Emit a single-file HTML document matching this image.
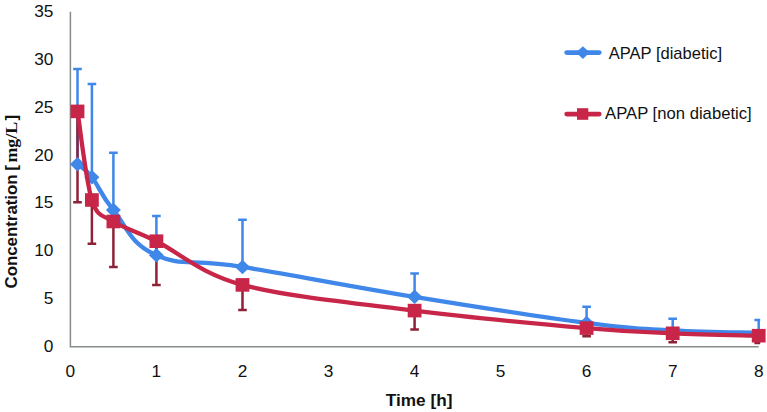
<!DOCTYPE html>
<html lang="en"><head><meta charset="utf-8"><title>APAP concentration vs time</title>
<style>html,body{margin:0;padding:0;background:#fff}svg{display:block}</style></head>
<body>
<svg width="767" height="412" viewBox="0 0 767 412">
<rect width="767" height="412" fill="#fff"/>
<path d="M70.4,11.7 V346.7 H758.7" fill="none" stroke="#868c8b" stroke-width="1.5"/>
<g font-family="'Liberation Sans', sans-serif" font-size="16" fill="#111" text-anchor="end">
<text x="53.4" y="351.9" textLength="9.6" lengthAdjust="spacingAndGlyphs">0</text>
<text x="53.4" y="304.0" textLength="9.6" lengthAdjust="spacingAndGlyphs">5</text>
<text x="53.4" y="256.2" textLength="19.2" lengthAdjust="spacingAndGlyphs">10</text>
<text x="53.4" y="208.3" textLength="19.2" lengthAdjust="spacingAndGlyphs">15</text>
<text x="53.4" y="160.5" textLength="19.2" lengthAdjust="spacingAndGlyphs">20</text>
<text x="53.4" y="112.6" textLength="19.2" lengthAdjust="spacingAndGlyphs">25</text>
<text x="53.4" y="64.8" textLength="19.2" lengthAdjust="spacingAndGlyphs">30</text>
<text x="53.4" y="16.9" textLength="19.2" lengthAdjust="spacingAndGlyphs">35</text>
</g>
<g font-family="'Liberation Sans', sans-serif" font-size="16" fill="#111" text-anchor="middle">
<text x="70.4" y="376.5" textLength="9.6" lengthAdjust="spacingAndGlyphs">0</text>
<text x="156.4" y="376.5" textLength="9.6" lengthAdjust="spacingAndGlyphs">1</text>
<text x="242.5" y="376.5" textLength="9.6" lengthAdjust="spacingAndGlyphs">2</text>
<text x="328.5" y="376.5" textLength="9.6" lengthAdjust="spacingAndGlyphs">3</text>
<text x="414.6" y="376.5" textLength="9.6" lengthAdjust="spacingAndGlyphs">4</text>
<text x="500.6" y="376.5" textLength="9.6" lengthAdjust="spacingAndGlyphs">5</text>
<text x="586.6" y="376.5" textLength="9.6" lengthAdjust="spacingAndGlyphs">6</text>
<text x="672.7" y="376.5" textLength="9.6" lengthAdjust="spacingAndGlyphs">7</text>
<text x="758.7" y="376.5" textLength="9.6" lengthAdjust="spacingAndGlyphs">8</text>
</g>
<text x="385.8" y="405.5" font-family="'Liberation Sans', sans-serif" font-weight="bold" font-size="17" fill="#111" textLength="66.6" lengthAdjust="spacingAndGlyphs">Time [h]</text>
<g transform="translate(16.6,288.5) rotate(-90)" font-family="'Liberation Sans', sans-serif" font-weight="bold" font-size="17.2" fill="#111">
<text x="0" y="0" textLength="114.1" lengthAdjust="spacingAndGlyphs">Concentration</text>
<text x="117.7" y="0">[</text>
<text x="126" y="0" font-family="'Liberation Serif', serif" font-size="17.5" textLength="40.6" lengthAdjust="spacingAndGlyphs">mg/L</text>
<text x="168" y="0">]</text>
</g>
<path d="M77.5,164.2 V69.1 M73.2,69.1 H81.8" fill="none" stroke="#4087ea" stroke-width="2.5"/>
<path d="M91.9,177.3 V84.0 M87.6,84.0 H96.2" fill="none" stroke="#4087ea" stroke-width="2.5"/>
<path d="M113.4,210.1 V152.7 M109.1,152.7 H117.7" fill="none" stroke="#4087ea" stroke-width="2.5"/>
<path d="M156.4,255.3 V216.1 M152.1,216.1 H160.7" fill="none" stroke="#4087ea" stroke-width="2.5"/>
<path d="M242.5,267.0 V219.8 M238.2,219.8 H246.8" fill="none" stroke="#4087ea" stroke-width="2.5"/>
<path d="M414.6,296.8 V273.5 M410.3,273.5 H418.9" fill="none" stroke="#4087ea" stroke-width="2.5"/>
<path d="M586.6,323.0 V306.8 M582.3,306.8 H590.9" fill="none" stroke="#4087ea" stroke-width="2.5"/>
<path d="M672.7,330.4 V318.8 M668.4,318.8 H677.0" fill="none" stroke="#4087ea" stroke-width="2.5"/>
<path d="M758.7,332.8 V320.0 M754.4,320.0 H760.2" fill="none" stroke="#4087ea" stroke-width="2.5"/>
<path d="M77.5,111.4 V202.2 M73.2,202.2 H81.8" fill="none" stroke="#8e2238" stroke-width="2.5"/>
<path d="M91.9,200.0 V243.7 M87.6,243.7 H96.2" fill="none" stroke="#8e2238" stroke-width="2.5"/>
<path d="M113.4,221.5 V267.0 M109.1,267.0 H117.7" fill="none" stroke="#8e2238" stroke-width="2.5"/>
<path d="M156.4,241.2 V285.1 M152.1,285.1 H160.7" fill="none" stroke="#8e2238" stroke-width="2.5"/>
<path d="M242.5,284.9 V310.1 M238.2,310.1 H246.8" fill="none" stroke="#8e2238" stroke-width="2.5"/>
<path d="M414.6,310.6 V329.6 M410.3,329.6 H418.9" fill="none" stroke="#8e2238" stroke-width="2.5"/>
<path d="M586.6,328.1 V336.2 M582.3,336.2 H590.9" fill="none" stroke="#8e2238" stroke-width="2.5"/>
<path d="M672.7,333.3 V342.2 M668.4,342.2 H677.0" fill="none" stroke="#8e2238" stroke-width="2.5"/>
<path d="M758.7,335.7 V342.9 M754.4,342.9 H760.2" fill="none" stroke="#8e2238" stroke-width="2.5"/>
<path d="M77.54,164.18 C80.53,166.91 84.44,167.72 91.91,177.29 C99.38,186.86 99.98,193.87 113.42,210.12 C126.86,226.37 129.55,243.45 156.44,255.30 C183.33,267.14 188.71,258.32 242.48,266.97 C296.26,275.63 342.86,285.17 414.56,296.84 C486.26,308.50 532.87,315.97 586.64,322.96 C640.41,329.96 636.83,328.38 672.68,330.43 C708.53,332.48 740.80,332.32 758.72,332.82" fill="none" stroke="#4087ea" stroke-width="4.3" stroke-linecap="round" stroke-linejoin="round"/>
<path d="M70.0,164.2 l7.5,-7.3 l7.5,7.3 l-7.5,7.3z" fill="#4087ea"/>
<path d="M84.4,177.3 l7.5,-7.3 l7.5,7.3 l-7.5,7.3z" fill="#4087ea"/>
<path d="M105.9,210.1 l7.5,-7.3 l7.5,7.3 l-7.5,7.3z" fill="#4087ea"/>
<path d="M148.9,255.3 l7.5,-7.3 l7.5,7.3 l-7.5,7.3z" fill="#4087ea"/>
<path d="M235.0,267.0 l7.5,-7.3 l7.5,7.3 l-7.5,7.3z" fill="#4087ea"/>
<path d="M407.1,296.8 l7.5,-7.3 l7.5,7.3 l-7.5,7.3z" fill="#4087ea"/>
<path d="M579.1,323.0 l7.5,-7.3 l7.5,7.3 l-7.5,7.3z" fill="#4087ea"/>
<path d="M77.54,111.44 C79.94,126.20 85.93,181.63 91.91,199.98 C97.89,218.32 102.67,214.64 113.42,221.51 C124.18,228.39 134.93,230.67 156.44,241.23 C177.95,251.79 199.46,273.31 242.48,284.87 C285.50,296.44 357.20,303.41 414.56,310.62 C471.92,317.83 543.62,324.35 586.64,328.13 C629.66,331.91 644.00,332.04 672.68,333.30 C701.36,334.56 744.38,335.29 758.72,335.69" fill="none" stroke="#c82649" stroke-width="4.3" stroke-linecap="round" stroke-linejoin="round"/>
<rect x="70.6" y="104.6" width="13.8" height="13.6" fill="#c82649"/>
<rect x="85.0" y="193.2" width="13.8" height="13.6" fill="#c82649"/>
<rect x="106.5" y="214.7" width="13.8" height="13.6" fill="#c82649"/>
<rect x="149.5" y="234.4" width="13.8" height="13.6" fill="#c82649"/>
<rect x="235.6" y="278.1" width="13.8" height="13.6" fill="#c82649"/>
<rect x="407.7" y="303.8" width="13.8" height="13.6" fill="#c82649"/>
<rect x="579.7" y="321.3" width="13.8" height="13.6" fill="#c82649"/>
<rect x="665.8" y="326.5" width="13.8" height="13.6" fill="#c82649"/>
<rect x="751.8" y="328.9" width="13.8" height="13.6" fill="#c82649"/>
<path d="M566.7,52.6 H599.2" stroke="#4087ea" stroke-width="4.8" stroke-linecap="round"/>
<path d="M576.1,52.6 l6.8,-6.4 l6.8,6.4 l-6.8,6.4z" fill="#4087ea"/>
<text x="608.7" y="58.5" font-family="'Liberation Sans', sans-serif" font-size="16.4" fill="#111" textLength="113.4" lengthAdjust="spacingAndGlyphs">APAP [diabetic]</text>
<path d="M566.7,114.1 H599.2" stroke="#c82649" stroke-width="4.8" stroke-linecap="round"/>
<rect x="577" y="108.2" width="11.3" height="11.6" fill="#c82649"/>
<text x="605.1" y="119.2" font-family="'Liberation Sans', sans-serif" font-size="16.4" fill="#111" textLength="146.6" lengthAdjust="spacingAndGlyphs">APAP [non diabetic]</text>
</svg>
</body></html>
